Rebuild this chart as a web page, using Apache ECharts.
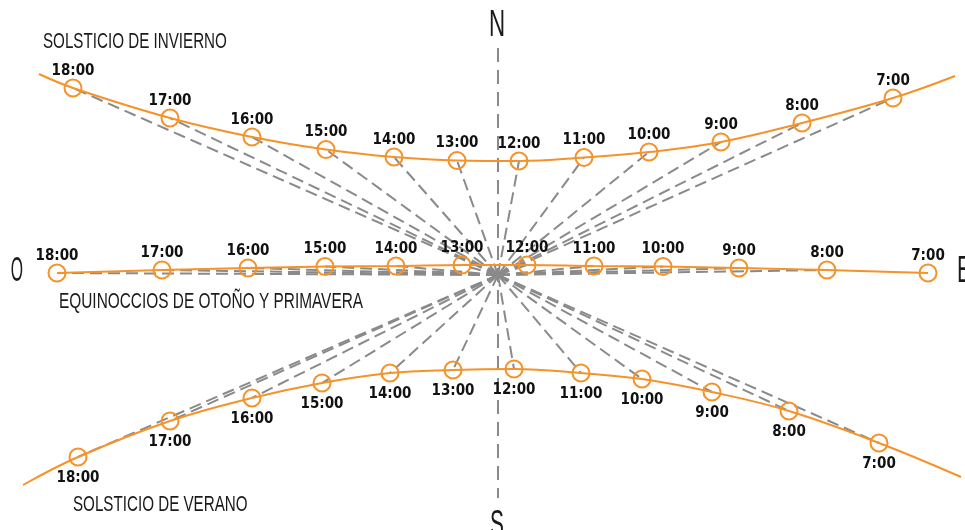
<!DOCTYPE html>
<html>
<head>
<meta charset="utf-8">
<script src="https://cdn.jsdelivr.net/npm/echarts@6/dist/echarts.min.js"></script>
<style>
html,body{margin:0;padding:0;background:#fff;}
#chart{width:965px;height:530px;}
</style>
</head>
<body>
<div id="chart"></div>
<script>
// Hours, from west (left) to east (right)
const hourLabels = ['18:00','17:00','16:00','15:00','14:00','13:00','12:00','11:00','10:00','9:00','8:00','7:00'];

// Sun positions (x: west-east, y: north-south) relative to the observer at the origin
const winterX  = [-425, -328, -246, -172, -104, -41, 21, 86, 151, 223, 304, 395];
const winterY  = [ 187,  157,  138,  125.5, 118, 114.5, 114, 117.5, 123, 133, 152, 177];
const equinoxX = [-441, -336, -250, -173, -102, -36, 29, 96, 165, 241, 329, 430];
const equinoxY = [   2,    5,    7,  8.5,    9,  10, 10,  9, 8.5,   7,   5,   2];
const summerX  = [-420, -328, -246, -176, -108, -45, 16, 83, 144, 214, 291, 381];
const summerY  = [-182, -146, -123, -108,  -98, -95, -94, -98, -104, -117, -136, -168];

// Curve extensions beyond the 18:00 and 7:00 points
const winterEndsX = [-459, 457];
const winterEndsY = [ 201, 199];
const summerEndsX = [-475, 463];
const summerEndsY = [-210, -202];

// Hours of the equinox that have a sight line to the observer
const equinoxRayCount = 11;

// North-south axis extent
const nsTop = 227, nsBottom = -223;

const ORANGE = '#F5922A';
const GREY = '#8a8a8a';

function pts(xs, ys) { return xs.map((x, i) => [x, ys[i]]); }
function curve(xs, ys, ex, ey) {
  return [[ex[0], ey[0]]].concat(pts(xs, ys)).concat([[ex[1], ey[1]]]);
}
function rays(xs, ys, n) {
  const out = [];
  for (let i = 0; i < (n == null ? xs.length : n); i++) out.push({ coords: [[0, 0], [xs[i], ys[i]]] });
  return out;
}
function markers(xs, ys) {
  return xs.map((x, i) => ({ name: hourLabels[i], value: [x, ys[i]] }));
}

const labelFont = { fontFamily: 'Liberation Sans Narrow, DejaVu Sans Condensed, Liberation Sans, sans-serif', fontSize: 15, fontWeight: 'bold', color: '#111' };

const markerBase = {
  type: 'scatter',
  symbol: 'circle',
  symbolSize: 17,
  itemStyle: { color: 'rgba(0,0,0,0)', borderColor: ORANGE, borderWidth: 2, opacity: 1 },
  silent: true,
  z: 5
};

function textEl(text, x, y, size, sx, align, valign) {
  return {
    type: 'text', x: x, y: y, scaleX: sx, scaleY: 1, silent: true,
    style: {
      text: text, x: 0, y: 0, fill: '#1a1a1a',
      fontSize: size, fontFamily: 'Liberation Sans, sans-serif',
      align: align, verticalAlign: valign, textAlign: align, textVerticalAlign: valign
    }
  };
}

const chart = echarts.init(document.getElementById('chart'), null, { renderer: 'canvas' });
chart.setOption({
  animation: false,
  backgroundColor: '#fff',
  grid: { left: 0, right: 0, top: 0, bottom: 0 },
  xAxis: { type: 'value', min: -498, max: 467, show: false },
  yAxis: { type: 'value', min: -255, max: 275, show: false },
  graphic: [
    textEl('SOLSTICIO DE INVIERNO', 43, 42, 22, 0.69, 'left', 'middle'),
    textEl('EQUINOCCIOS DE OTOÑO Y PRIMAVERA', 59, 302, 22, 0.70, 'left', 'middle'),
    textEl('SOLSTICIO DE VERANO', 73, 505, 22, 0.69, 'left', 'middle'),
    textEl('N', 497, 26, 36, 0.62, 'center', 'middle'),
    textEl('S', 497, 526, 36, 0.58, 'center', 'middle'),
    textEl('O', 17, 271, 35, 0.45, 'center', 'middle'),
    textEl('E', 957, 272, 36, 0.6, 'left', 'middle')
  ],
  series: [
    {
      type: 'lines', coordinateSystem: 'cartesian2d', silent: true, z: 1,
      lineStyle: { color: GREY, width: 2, type: [12, 6], opacity: 1 },
      data: rays(winterX, winterY).concat(rays(summerX, summerY)).concat(rays(equinoxX, equinoxY, equinoxRayCount))
    },
    {
      type: 'lines', coordinateSystem: 'cartesian2d', silent: true, z: 1,
      lineStyle: { color: GREY, width: 2, type: [14, 8], opacity: 1 },
      data: [{ coords: [[0, nsTop], [0, nsBottom]] }]
    },
    {
      type: 'line', data: curve(winterX, winterY, winterEndsX, winterEndsY), smooth: 0.4,
      showSymbol: false, lineStyle: { color: ORANGE, width: 2 }, silent: true, z: 3
    },
    {
      type: 'line', data: pts(equinoxX, equinoxY), smooth: 0.4,
      showSymbol: false, lineStyle: { color: ORANGE, width: 2 }, silent: true, z: 3
    },
    {
      type: 'line', data: curve(summerX, summerY, summerEndsX, summerEndsY), smooth: 0.4,
      showSymbol: false, lineStyle: { color: ORANGE, width: 2 }, silent: true, z: 3
    },
    Object.assign({}, markerBase, {
      data: markers(winterX, winterY),
      label: Object.assign({ show: true, position: 'top', distance: 0, formatter: '{b}' }, labelFont)
    }),
    Object.assign({}, markerBase, {
      data: markers(equinoxX, equinoxY),
      label: Object.assign({ show: true, position: 'top', distance: 0, formatter: '{b}' }, labelFont)
    }),
    Object.assign({}, markerBase, {
      data: markers(summerX, summerY),
      label: Object.assign({ show: true, position: 'bottom', distance: 4, formatter: '{b}' }, labelFont)
    })
  ]
});
</script>
</body>
</html>
